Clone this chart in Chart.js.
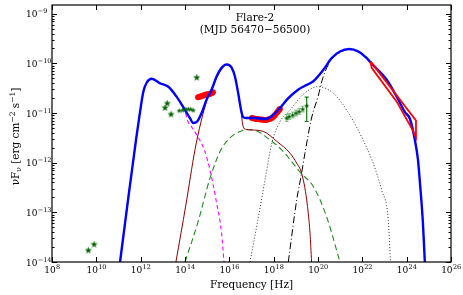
<!DOCTYPE html>
<html>
<head>
<meta charset="utf-8">
<script src="https://cdn.jsdelivr.net/npm/chart.js@4.4.1/dist/chart.umd.min.js"></script>
<style>
html,body{margin:0;padding:0;background:#fff;overflow:hidden}
canvas{display:block}
</style>
</head>
<body>
<canvas id="sed" width="463" height="295"></canvas>
<script>
// every value is log10(nu / Hz) and log10(nuFnu / erg cm^-2 s^-1)

// total model (blue)
var totalNu = [11.07, 11.43, 11.79, 11.97, 12.12, 12.27, 12.50, 12.87, 13.25, 13.62, 14.00, 14.22, 14.37, 14.55, 14.75, 14.98, 15.20, 15.43, 15.65, 15.88, 16.11, 16.25, 16.40, 16.53, 16.62, 16.75, 17.16, 17.61, 17.92, 18.28, 18.64, 19.10, 19.41, 19.79, 20.24, 20.62, 20.99, 21.41, 21.82, 22.19, 22.39, 23.10, 23.55, 23.92, 24.15, 24.37, 24.51, 24.60, 24.73, 24.82];
var totalF  = [-14, -12.75, -11.54, -10.98, -10.57, -10.39, -10.31, -10.40, -10.47, -10.67, -10.94, -11.10, -11.20, -11.17, -11.00, -10.72, -10.53, -10.26, -10.09, -10.02, -10.09, -10.26, -10.60, -10.94, -11.08, -11.10, -11.10, -11.12, -11.06, -10.90, -10.71, -10.53, -10.45, -10.36, -10.13, -9.89, -9.76, -9.71, -9.76, -9.89, -9.99, -10.33, -10.67, -10.98, -11.12, -11.54, -11.94, -12.41, -13.19, -14];

// first synchrotron (magenta dashed)
var syn1Nu = [11.07, 11.43, 11.79, 11.97, 12.12, 12.27, 12.50, 12.87, 13.25, 13.62, 14.00, 14.13, 14.30, 14.53, 14.87, 15.13, 15.40, 15.65, 15.76];
var syn1F  = [-14, -12.75, -11.54, -10.98, -10.57, -10.39, -10.32, -10.41, -10.48, -10.68, -10.96, -11.17, -11.28, -11.44, -11.74, -12.15, -12.75, -13.42, -14];

// second synchrotron (dark red)
var syn2Nu = [13.59, 14.04, 14.45, 14.72, 14.98, 15.35, 15.65, 15.88, 16.11, 16.25, 16.40, 16.53, 16.60, 16.66, 16.93, 17.53, 18.14, 18.74, 19.04, 19.26, 19.49, 19.64, 19.71];
var syn2F  = [-14, -12.85, -11.74, -11.18, -10.76, -10.37, -10.11, -10.03, -10.10, -10.27, -10.61, -10.97, -11.22, -11.31, -11.34, -11.37, -11.57, -11.81, -12.01, -12.21, -12.75, -13.42, -14];

// SSC (green dashed)
var sscNu = [14.00, 14.59, 15.13, 15.62, 16.03, 16.48, 16.84, 17.25, 17.68, 18.36, 19.23, 19.79, 20.39, 20.99];
var sscF  = [-14, -13.19, -12.31, -11.74, -11.50, -11.37, -11.33, -11.36, -11.49, -11.74, -12.21, -12.48, -13.09, -14];

// EC 1 (dotted)
var ec1Nu = [16.93, 17.29, 17.61, 17.92, 18.28, 18.74, 19.32, 20.00, 20.69, 21.35, 22.03, 22.49, 22.87, 23.17, 23.27];
var ec1F  = [-14, -13.15, -12.35, -11.60, -11.18, -10.94, -10.63, -10.47, -10.60, -10.98, -11.54, -12.01, -12.55, -13.15, -14];

// EC 2 (black dash-dot)
var ec2Nu = [18.66, 19.04, 19.26, 19.41, 19.71, 20.00, 20.22, 20.54, 21.00, 21.41, 21.82, 22.19, 22.39, 23.10, 23.55, 23.92, 24.15, 24.37, 24.51, 24.60, 24.73, 24.82];
var ec2F  = [-14, -12.75, -12.21, -11.81, -11.10, -10.67, -10.29, -9.97, -9.78, -9.72, -9.77, -9.90, -10.00, -10.34, -10.68, -10.99, -11.13, -11.55, -11.95, -12.42, -13.20, -14];

// data: optical/UV (red)
var optNu = [14.59, 14.66, 14.73, 14.80, 14.86, 14.93, 15.00, 15.07, 15.13, 15.20, 15.26];
var optF  = [-10.68, -10.67, -10.66, -10.65, -10.64, -10.63, -10.62, -10.62, -10.61, -10.60, -10.58];

// data: soft X-ray (red)
var xrtNu = [17.02, 17.11, 17.20, 17.29, 17.38, 17.47, 17.56, 17.65, 17.74, 17.83, 17.92, 18.00, 18.06, 18.13, 18.19, 18.24, 18.28];
var xrtF  = [-11.10, -11.11, -11.12, -11.12, -11.13, -11.13, -11.14, -11.14, -11.13, -11.12, -11.10, -11.07, -11.04, -11.00, -10.97, -10.94, -10.92];

// data: radio / IR archival (green stars)
var bigStarNu = [9.64, 9.90, 13.10, 13.20, 13.37, 14.53];
var bigStarF  = [-13.76, -13.64, -10.89, -10.80, -11.02, -10.28];
var smallStarNu = [13.74, 13.89, 14.04, 14.15, 14.26, 14.37];
var smallStarF  = [-10.95, -10.94, -10.92, -10.92, -10.92, -10.94];

// data: hard X-ray (green, with errors)
var hxNu   = [18.59, 18.70, 18.86, 19.01, 19.15, 19.31, 19.49];
var hxF    = [-11.10, -11.07, -11.04, -11.00, -10.97, -10.92, -10.85];
var hxFLo  = [-11.17, -11.13, -11.10, -11.06, -11.03, -10.98, -11.17];
var hxFHi  = [-11.03, -11.01, -10.98, -10.94, -10.91, -10.86, -10.68];
var hxNuErr = [0.10, 0.10, 0.10, 0.10, 0.10, 0.10, 0.05];

// data: gamma-ray butterfly outline (red), walked round the polygon
var latNu = [22.37, 24.42, 24.42, 24.22, 23.55, 22.42, 22.37];
var latF  = [-9.96, -11.15, -11.49, -11.30, -10.77, -10.09, -9.96];

// axis ticks (exponents)
var xMajor = [8, 10, 12, 14, 16, 18, 20, 22, 24, 26];
var yMajor = [-14, -13, -12, -11, -10, -9];

function pts(nu, f) {
  return nu.map(function (v, i) { return { x: Math.pow(10, v), y: Math.pow(10, f[i]) }; });
}

function starImg(r, fill) {
  var c = document.createElement('canvas');
  var s = Math.ceil(r * 2) + 2;
  c.width = s; c.height = s;
  var g = c.getContext('2d');
  g.translate(s / 2, s / 2 + r * 0.1);
  g.beginPath();
  for (var i = 0; i < 10; i++) {
    var rr = i % 2 ? r * 0.45 : r;
    var a = -Math.PI / 2 + i * Math.PI / 5;
    g.lineTo(rr * Math.cos(a), rr * Math.sin(a));
  }
  g.closePath();
  g.fillStyle = fill;
  g.fill();
  g.strokeStyle = 'rgba(0,100,0,0.6)';
  g.lineWidth = 0.6;
  g.stroke();
  return c;
}

function curve(data, color, width, dash, order) {
  return {
    data: data, showLine: true, borderColor: color, borderWidth: width,
    borderDash: dash, pointRadius: 0, fill: false,
    cubicInterpolationMode: 'monotone', order: order
  };
}

var SERIF = '"DejaVu Serif", "Liberation Serif", serif';

function drawPow(ctx, e, x, y, align) {
  var base = '10', ex = String(e).replace('-', '\u2212');
  ctx.font = '9px ' + SERIF;
  var w1 = ctx.measureText(base).width;
  ctx.font = '6.5px ' + SERIF;
  var w2 = ctx.measureText(ex).width;
  var x0 = align === 'center' ? x - (w1 + w2) / 2 : x;
  ctx.textAlign = 'left';
  ctx.textBaseline = 'alphabetic';
  ctx.font = '9px ' + SERIF;
  ctx.fillText(base, x0, y);
  ctx.font = '6.5px ' + SERIF;
  ctx.fillText(ex, x0 + w1 + 0.3, y - 4);
}

function drawRich(ctx, parts, x, y) {
  var total = 0;
  parts.forEach(function (p) { ctx.font = p[1] + 'px ' + SERIF; total += ctx.measureText(p[0]).width; });
  var cx = x - total / 2;
  ctx.textAlign = 'left';
  ctx.textBaseline = 'alphabetic';
  parts.forEach(function (p) {
    ctx.font = p[1] + 'px ' + SERIF;
    ctx.fillText(p[0], cx, y + (p[2] || 0));
    cx += ctx.measureText(p[0]).width;
  });
}

var axesDeco = {
  id: 'axesDeco',
  beforeDatasetsDraw: function (chart) {
    var ctx = chart.ctx, xs = chart.scales.x, ys = chart.scales.y;
    ctx.save();
    for (var i = 0; i < hxNu.length; i++) {
      var last = i === hxNu.length - 1;
      ctx.strokeStyle = 'rgba(60,150,60,0.55)';
      ctx.lineWidth = 1;
      var px = xs.getPixelForValue(Math.pow(10, hxNu[i]));
      var py = ys.getPixelForValue(Math.pow(10, hxF[i]));
      var x1 = xs.getPixelForValue(Math.pow(10, hxNu[i] - hxNuErr[i]));
      var x2 = xs.getPixelForValue(Math.pow(10, hxNu[i] + hxNuErr[i]));
      var y1 = ys.getPixelForValue(Math.pow(10, hxFLo[i]));
      var y2 = ys.getPixelForValue(Math.pow(10, hxFHi[i]));
      if (last) { ctx.strokeStyle = '#0a7a0a'; ctx.lineWidth = 1.2; }
      ctx.beginPath();
      ctx.moveTo(x1, py); ctx.lineTo(x2, py);
      ctx.moveTo(px, y1); ctx.lineTo(px, y2);
      ctx.moveTo(px - 2, y1); ctx.lineTo(px + 2, y1);
      ctx.moveTo(px - 2, y2); ctx.lineTo(px + 2, y2);
      ctx.stroke();
    }
    ctx.restore();
  },
  afterDraw: function (chart) {
    var ctx = chart.ctx, ca = chart.chartArea, xs = chart.scales.x, ys = chart.scales.y;
    ctx.save();
    ctx.strokeStyle = '#000';
    ctx.fillStyle = '#000';
    ctx.lineWidth = 1;
    ctx.beginPath();
    xMajor.forEach(function (e) {
      var px = Math.round(xs.getPixelForValue(Math.pow(10, e))) + 0.5;
      ctx.moveTo(px, ca.bottom); ctx.lineTo(px, ca.bottom - 5);
      ctx.moveTo(px, ca.top); ctx.lineTo(px, ca.top + 5);
    });
    yMajor.forEach(function (e) {
      var py = Math.round(ys.getPixelForValue(Math.pow(10, e))) + 0.5;
      ctx.moveTo(ca.left, py); ctx.lineTo(ca.left + 5, py);
      ctx.moveTo(ca.right, py); ctx.lineTo(ca.right - 5, py);
      for (var k = 2; k <= 9; k++) {
        var v = e + Math.log10(k);
        if (v > Math.log10(ys.max)) break;
        var pm = Math.round(ys.getPixelForValue(Math.pow(10, v))) + 0.5;
        ctx.moveTo(ca.left, pm); ctx.lineTo(ca.left + 2.5, pm);
        ctx.moveTo(ca.right, pm); ctx.lineTo(ca.right - 2.5, pm);
      }
    });
    ctx.stroke();
    ctx.lineWidth = 1.2;
    ctx.strokeRect(ca.left, ca.top, ca.right - ca.left, ca.bottom - ca.top);

    xMajor.forEach(function (e) {
      drawPow(ctx, e, xs.getPixelForValue(Math.pow(10, e)), ca.bottom + 11, 'center');
    });
    yMajor.forEach(function (e) {
      drawPow(ctx, e, 26, ys.getPixelForValue(Math.pow(10, e)) + 3.5, 'left');
    });

    // axis titles
    drawRich(ctx, [['Frequency [Hz]', 10.5]], (ca.left + ca.right) / 2, 287.5);
    ctx.save();
    ctx.translate(18.5, (ca.top + ca.bottom) / 2 + 3);
    ctx.rotate(-Math.PI / 2);
    drawRich(ctx, [['\u03bdF', 10.5], ['\u03bd', 7.5, 2.5], [' [erg cm', 10.5], ['\u22122', 7.5, -4], [' s', 10.5], ['\u22121', 7.5, -4], [']', 10.5]], 0, 0);
    ctx.restore();

    // panel title
    drawRich(ctx, [['Flare-2', 10.5]], 255, 20.5);
    drawRich(ctx, [['(MJD 56470\u221256500)', 10.5]], 255, 33);
    ctx.restore();
  }
};

var bigStar = starImg(3.2, '#006400');
var smallStar = starImg(2.3, '#006400');
var hxStar = starImg(2.1, '#006400');

new Chart(document.getElementById('sed'), {
  type: 'scatter',
  data: {
    datasets: [
      { data: pts(bigStarNu, bigStarF), pointStyle: bigStar, order: 0 },
      { data: pts(smallStarNu, smallStarF), pointStyle: smallStar, order: 0 },
      { data: pts(hxNu, hxF), pointStyle: hxStar, order: 0 },
      { data: pts(latNu, latF), showLine: true, borderColor: '#ff0000', borderWidth: 1.8, pointRadius: 0, tension: 0, order: 1 },
      curve(pts(totalNu, totalF), '#0000ff', 2.4, [], 2),
      { data: pts(optNu, optF), pointRadius: 3, backgroundColor: '#ff0000', borderWidth: 0, order: 3 },
      { data: pts(xrtNu, xrtF), pointRadius: 3, backgroundColor: '#ff0000', borderWidth: 0, order: 3 },
      curve(pts(syn2Nu, syn2F), '#8b0000', 1, [], 4),
      curve(pts(sscNu, sscF), '#228b22', 1.1, [6, 3.5], 5),
      curve(pts(syn1Nu, syn1F), '#ff00ff', 1.1, [4, 3], 6),
      curve(pts(ec1Nu, ec1F), '#333333', 1, [1, 2], 7),
      curve(pts(ec2Nu, ec2F), '#000000', 1, [7, 2.5, 1, 2.5], 8)
    ]
  },
  options: {
    responsive: false,
    animation: false,
    layout: { padding: { left: 0, right: 12, top: 5, bottom: 0 } },
    plugins: { legend: { display: false }, tooltip: { enabled: false } },
    scales: {
      x: {
        type: 'logarithmic', min: 1e8, max: 1e26,
        ticks: { display: false }, grid: { display: false }, border: { display: false },
        afterFit: function (s) { s.height = 33; }
      },
      y: {
        type: 'logarithmic', min: 1e-14, max: 1.5e-9,
        ticks: { display: false }, grid: { display: false }, border: { display: false },
        afterFit: function (s) { s.width = 52; }
      }
    }
  },
  plugins: [axesDeco]
});
</script>
</body>
</html>
